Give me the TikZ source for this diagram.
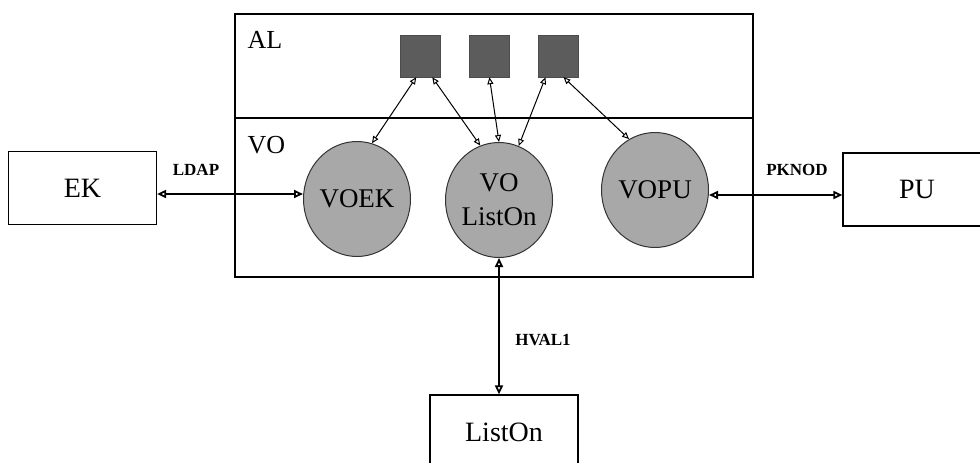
\documentclass[tikz,border=0pt]{standalone}
\usepackage{fontspec}
\setmainfont{Liberation Serif}
\usetikzlibrary{arrows.meta,positioning,calc,shapes.geometric}
\definecolor{ring}{HTML}{A8A8A8}
\definecolor{tile}{HTML}{5C5C5C}

\begin{document}
\begin{tikzpicture}[x=1pt,y=-1pt,
 box/.style={draw,line width=1.2pt,minimum width=148pt,minimum height=73pt,
 font=\fontsize{28}{30}\selectfont},
 layer/.style={draw,line width=1.4pt,minimum width=518pt},
 caption/.style={anchor=west,font=\fontsize{26}{26}\selectfont},
 orb/.style={ellipse,draw=black!80,line width=1pt,fill=ring,align=center,
 minimum width=107pt,minimum height=115pt,inner sep=0pt,
 font=\fontsize{27}{34}\selectfont},
 sqr/.style={draw=black!70,fill=tile,minimum width=40pt,minimum height=42pt,inner sep=0pt},
 tag/.style={font=\bfseries\fontsize{17}{17}\selectfont},
 arr/.style={{Triangle[open,length=7pt,width=6pt]}-{Triangle[open,length=7pt,width=6pt]},
 line width=1pt},
 link/.style={{Triangle[open,length=9pt,width=8pt]}-{Triangle[open,length=9pt,width=8pt]},
 line width=1.8pt}]
 \useasboundingbox (0,0) rectangle (980,463);
 \node[layer,minimum height=104pt] (al) at (494,66) {};
 \node[layer,minimum height=159pt] (vo) at (494,197.5) {};
 \node[caption] (altxt) at (244,40) {AL};
 \node[caption] (votxt) at (244,145) {VO};
 \node[sqr] (s1) at (420,56) {};
 \node[sqr,right=29pt of s1] (s2) {};
 \node[sqr,right=28pt of s2] (s3) {};
 \node[orb] (voek) at (357,199) {VOEK};
 \node[orb] (vol) at (499,200) {VO\\ListOn};
 \node[orb] (vopu) at (655,190) {VOPU};
 \node[box] (ek) at (82.5,188) {EK};
 \node[box] (pu) at (917,189.5) {PU};
 \node[box,minimum height=74pt] (liston) at (504,432) {ListOn};
 \node[tag] (ldap) at (196,170) {LDAP};
 \node[tag] (pknod) at (797,170) {PKNOD};
 \node[tag] (hval) at (543,340) {HVAL1};
 \draw[arr] (s1.-100) -- (voek.75);
 \draw[arr] (s1.-60) -- (vol.109);
 \draw[arr] (s2.south) -- (vol.north);
 \draw[arr] (s3.-120) -- (vol.70);
 \draw[arr] (s3.-75) -- (vopu.117);
 \draw[link] ([yshift=-6pt]ek.east) -- ([yshift=5pt]voek.west);
 \draw[link] ([yshift=-5pt]vopu.east) -- ([yshift=-5.5pt]pu.west);
 \draw[link] (vol.south) -- ([xshift=-5pt]liston.north);
\end{tikzpicture}
\end{document}
